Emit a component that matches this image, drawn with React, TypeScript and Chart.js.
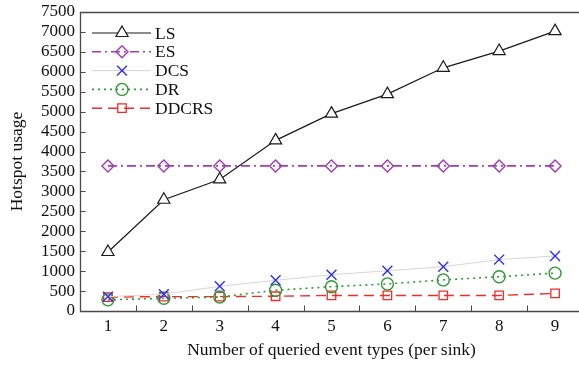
import React, { useEffect, useRef } from "react";
import { Chart, registerables } from "chart.js";
import { drawPoint } from "chart.js/helpers";

Chart.register(...registerables);

const categories = ["1", "2", "3", "4", "5", "6", "7", "8", "9"];
const seriesNames = ["LS", "ES", "DCS", "DR", "DDCRS"];
const lsValues = [1480, 2790, 3300, 4280, 4950, 5440, 6100, 6520, 7020];
const esValues = [3640, 3640, 3640, 3640, 3640, 3640, 3640, 3640, 3640];
const dcsValues = [360, 420, 620, 770, 910, 1010, 1110, 1290, 1380];
const drValues = [280, 320, 350, 520, 610, 680, 780, 860, 950];
const ddcrsValues = [350, 360, 360, 370, 390, 390, 390, 390, 440];
const yTickStep = 500;
const yMax = 7500;

const FONT = "'Liberation Serif', 'Times New Roman', serif";

// Inward tick marks, the open-right plot frame and an in-plot legend.
const framePlugin = {
  id: "frame",
  afterDraw(chart: any) {
    const { ctx, chartArea } = chart;
    const xs = chart.scales.x;
    const ys = chart.scales.y;
    const L = Math.round(chartArea.left) + 0.5;
    const T = Math.round(chartArea.top) + 0.5;
    const B = Math.round(chartArea.bottom) + 0.5;
    ctx.save();
    ctx.strokeStyle = "#4a4a4a";
    ctx.lineWidth = 1.3;
    ctx.setLineDash([]);
    ctx.beginPath();
    ctx.moveTo(chart.width, T);
    ctx.lineTo(L, T);
    ctx.lineTo(L, B);
    ctx.lineTo(chart.width, B);
    ctx.stroke();
    ctx.lineWidth = 1;
    ctx.beginPath();
    for (let v = 0; v <= yMax; v += yTickStep) {
      const y = Math.round(ys.getPixelForValue(v)) + 0.5;
      ctx.moveTo(L, y);
      ctx.lineTo(L + 5, y);
    }
    for (let i = 0; i < categories.length - 1; i++) {
      const x = Math.round((xs.getPixelForValue(i) + xs.getPixelForValue(i + 1)) / 2) + 0.5;
      ctx.moveTo(x, B);
      ctx.lineTo(x, B - 6);
    }
    ctx.stroke();

    // legend
    const rowY0 = 33;
    const rowGap = 18.8;
    chart.data.datasets.forEach((ds: any, i: number) => {
      const y = rowY0 + i * rowGap;
      ctx.save();
      ctx.strokeStyle = ds.borderColor;
      ctx.lineWidth = ds.borderWidth;
      ctx.setLineDash(ds.borderDash || []);
      ctx.beginPath();
      ctx.moveTo(92, y);
      ctx.lineTo(151, y);
      ctx.stroke();
      ctx.setLineDash([]);
      ctx.strokeStyle = ds.pointBorderColor;
      ctx.fillStyle = ds.pointBackgroundColor;
      ctx.lineWidth = ds.pointBorderWidth;
      drawPoint(ctx, { pointStyle: ds.pointStyle, radius: ds.pointRadius, rotation: 0, borderWidth: ds.pointBorderWidth }, 122, y);
      ctx.restore();
      ctx.fillStyle = "#111";
      ctx.font = `17.5px ${FONT}`;
      ctx.textAlign = "left";
      ctx.textBaseline = "middle";
      ctx.fillText(ds.label, 155, y + 1);
    });
    ctx.restore();
  },
};

export default function App() {
  const canvasRef = useRef<HTMLCanvasElement | null>(null);

  useEffect(() => {
    const canvas = canvasRef.current;
    if (!canvas) return;
    const chart = new Chart(canvas, {
      type: "line",
      data: {
        labels: categories,
        datasets: [
          {
            label: seriesNames[0],
            data: lsValues,
            borderColor: "#1a1a1a",
            borderWidth: 1.2,
            pointStyle: "triangle",
            pointRadius: 7,
            pointBorderColor: "#1a1a1a",
            pointBackgroundColor: "#ffffff",
            pointBorderWidth: 1.2,
          },
          {
            label: seriesNames[1],
            data: esValues,
            borderColor: "#a03cb4",
            borderWidth: 1.6,
            borderDash: [9, 4, 2, 4],
            pointStyle: "rectRot",
            pointRadius: 6,
            pointBorderColor: "#a03cb4",
            pointBackgroundColor: "rgba(255,255,255,0)",
            pointBorderWidth: 1.4,
          },
          {
            label: seriesNames[2],
            data: dcsValues,
            borderColor: "#d6d6d6",
            borderWidth: 1,
            pointStyle: "crossRot",
            pointRadius: 7,
            pointBorderColor: "#2f2ff5",
            pointBackgroundColor: "#2f2ff5",
            pointBorderWidth: 1.4,
          },
          {
            label: seriesNames[3],
            data: drValues,
            borderColor: "#2f9a35",
            borderWidth: 1.6,
            borderDash: [2, 4],
            pointStyle: "circle",
            pointRadius: 6,
            pointBorderColor: "#2f9a35",
            pointBackgroundColor: "rgba(255,255,255,0)",
            pointBorderWidth: 1.4,
          },
          {
            label: seriesNames[4],
            data: ddcrsValues,
            borderColor: "#f52a2a",
            borderWidth: 1.4,
            borderDash: [10, 6],
            pointStyle: "rect",
            pointRadius: 6,
            pointBorderColor: "#f52a2a",
            pointBackgroundColor: "rgba(255,255,255,0)",
            pointBorderWidth: 1.3,
          },
        ],
      },
      options: {
        responsive: false,
        animation: false,
        devicePixelRatio: 1,
        layout: { padding: { top: 12, right: 17, left: 0, bottom: 0 } },
        plugins: { legend: { display: false }, tooltip: { enabled: false } },
        scales: {
          x: {
            type: "category",
            offset: true,
            grid: { display: false, drawTicks: false },
            border: { display: false },
            ticks: { color: "#111", font: { family: FONT, size: 17 }, padding: 5, maxRotation: 0 },
            title: {
              display: true,
              text: "Number of queried event types (per sink)",
              color: "#111",
              font: { family: FONT, size: 17.5 },
              padding: { top: 0, bottom: 4 },
            },
            afterFit(scale: any) {
              scale.height = 54;
            },
          },
          y: {
            min: 0,
            max: yMax,
            grid: { display: false, drawTicks: false },
            border: { display: false },
            ticks: {
              stepSize: yTickStep,
              autoSkip: false,
              color: "#111",
              font: { family: FONT, size: 17 },
              padding: 5,
              callback: (v: any) => String(v),
            },
            title: {
              display: true,
              text: "Hotspot usage",
              color: "#111",
              font: { family: FONT, size: 17.5 },
              padding: { top: 7, bottom: 0 },
            },
            afterFit(scale: any) {
              scale.width = 80;
              scale.paddingTop = 0;
              scale.paddingBottom = 0;
            },
          },
        },
      },
      plugins: [framePlugin],
    });
    return () => chart.destroy();
  }, []);

  return (
    <div style={{ position: "fixed", left: 0, top: 0, width: 579, height: 365, overflow: "hidden", background: "#fff" }}>
      <canvas ref={canvasRef} width={600} height={365} style={{ display: "block" }} />
    </div>
  );
}
